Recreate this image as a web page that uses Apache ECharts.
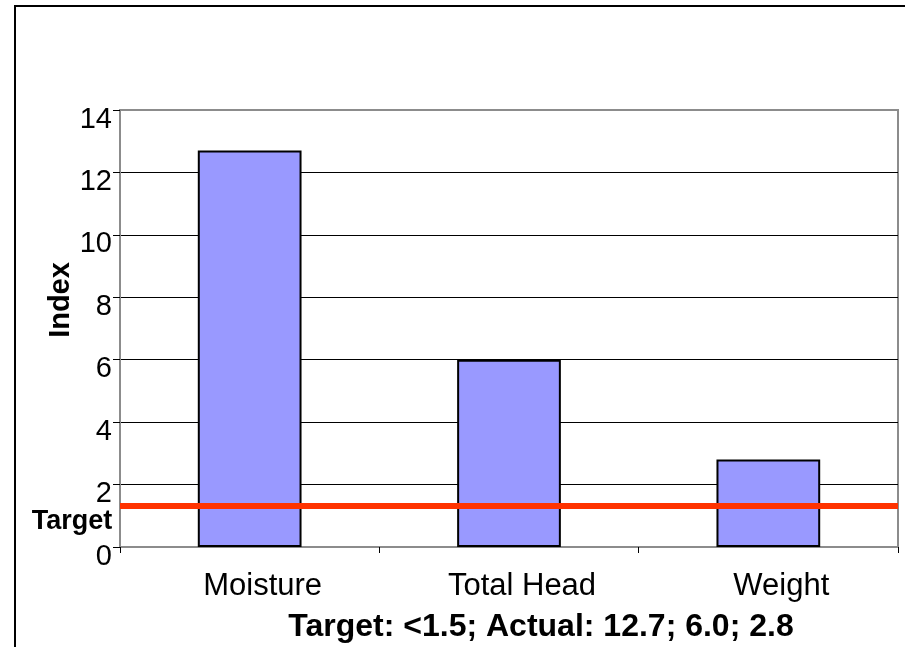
<!DOCTYPE html>
<html>
<head>
<meta charset="utf-8">
<script src="https://cdn.jsdelivr.net/npm/echarts@6/dist/echarts.min.js"></script>
<style>
  html, body { margin: 0; padding: 0; background: #ffffff; }
  #chart { width: 905px; height: 647px; }
</style>
</head>
<body>
<div id="chart"></div>
<script>
// Index values per quality measure
const categories = ['Moisture', 'Total Head', 'Weight'];
const indexValues = [12.7, 6.0, 2.8];
const targetValue = 1.33;
const yTicks = { min: 0, max: 14, interval: 2 };
const subtitleText = 'Target: <1.5; Actual: 12.7; 6.0; 2.8';

const FONT = "'Liberation Sans', Arial, sans-serif";
const chart = echarts.init(document.getElementById('chart'), null, { renderer: 'canvas' });

chart.setOption({
  animation: false,
  backgroundColor: '#ffffff',
  grid: {
    left: 120, right: 7, top: 110, bottom: 100,
    show: true,
    borderColor: '#8c8c8c',
    borderWidth: 2,
    backgroundColor: 'transparent'
  },
  xAxis: {
    type: 'category',
    data: categories,
    boundaryGap: true,
    axisLine: { show: true, lineStyle: { color: '#8c8c8c', width: 2 } },
    axisTick: { show: true, length: 6, lineStyle: { color: '#000000', width: 1 } },
    axisLabel: {
      margin: 24,
      formatter: v => '{c|' + v + '}',
      rich: {
        c: { fontFamily: FONT, fontSize: 31, color: '#000000', padding: [0, 0, 0, 26] }
      }
    },
    splitLine: { show: false }
  },
  yAxis: {
    type: 'value',
    min: yTicks.min,
    max: yTicks.max,
    interval: yTicks.interval,
    axisLine: { show: true, lineStyle: { color: '#8c8c8c', width: 2 } },
    axisTick: { show: true, length: 7, lineStyle: { color: '#000000', width: 1 } },
    axisLabel: {
      margin: 8, fontFamily: FONT, fontSize: 29, color: '#000000',
      verticalAlign: 'top', lineHeight: 19
    },
    splitLine: {
      show: true, showMinLine: false, showMaxLine: false,
      lineStyle: { color: '#000000', width: 1 }
    }
  },
  series: [{
    type: 'bar',
    data: indexValues,
    barWidth: '40%',
    itemStyle: { color: '#9999ff', borderColor: '#000000', borderWidth: 2 },
    markLine: {
      silent: true,
      symbol: ['none', 'none'],
      label: { show: false },
      lineStyle: { color: '#ff3300', width: 6, type: 'solid' },
      data: [{ yAxis: targetValue }]
    }
  }],
  graphic: [
    {
      type: 'rect',
      shape: { x: 15, y: 6, width: 1200, height: 1200 },
      style: { fill: 'none', stroke: '#000000', lineWidth: 2 },
      z: 100
    },
    {
      type: 'text',
      x: 61, y: 300,
      rotation: Math.PI / 2,
      style: {
        text: 'Index', fontFamily: FONT, fontSize: 29, fontWeight: 'bold',
        fill: '#000000', align: 'center', verticalAlign: 'middle'
      }
    },
    {
      type: 'text',
      x: 72, y: 522,
      style: {
        text: 'Target', fontFamily: FONT, fontSize: 27, fontWeight: 'bold',
        fill: '#000000', align: 'center', verticalAlign: 'middle'
      }
    },
    {
      type: 'text',
      x: 541, y: 627,
      style: {
        text: subtitleText, fontFamily: FONT, fontSize: 32, fontWeight: 'bold',
        fill: '#000000', align: 'center', verticalAlign: 'middle'
      }
    }
  ]
});
</script>
</body>
</html>
